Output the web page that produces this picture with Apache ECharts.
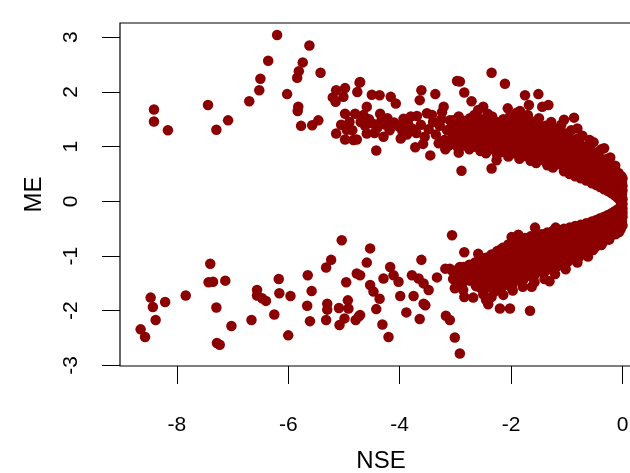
<!DOCTYPE html>
<html>
<head>
<meta charset="utf-8">
<script src="https://cdn.jsdelivr.net/npm/echarts@6/dist/echarts.min.js"></script>
<style>html,body{margin:0;padding:0;background:#fff}#c{width:630px;height:473px}</style>
</head>
<body>
<div id="c"></div>
<script>
// Tick labels
const xTicks = [-8, -6, -4, -2, 0];
const yTicks = [-3, -2, -1, 0, 1, 2, 3];

// Sparse upper points [NSE, ME]
const upperScatter = [
[-8.41,1.68],[-8.41,1.46],[-8.16,1.30],[-7.44,1.76],[-7.29,1.31],[-7.08,1.48],[-6.70,1.83],[-6.52,2.03],[-6.50,2.24],[-6.36,2.57],[-6.20,3.04],[-6.02,1.96],[-5.82,1.73],[-5.83,1.65],[-5.84,2.26],[-5.81,2.38],[-5.74,2.54],[-5.62,2.85],[-5.42,2.35],[-5.77,1.38],[-5.57,1.39],[-5.46,1.48],[-5.20,1.90],[-5.14,2.03],[-5.15,1.82],[-5.01,1.91],[-4.98,2.07],[-4.98,1.60],[-4.95,1.31],[-5.14,1.24],[-4.98,1.13],[-4.83,1.12],[-4.77,1.13],[-4.72,2.17],[-4.76,2.00],
[-2.35,2.35],[-2.11,2.15],[-2.97,2.20],[-2.92,2.19],[-2.84,1.99],[-2.71,1.83],[-3.36,1.96],[-3.61,2.03],[-3.64,1.85],[-3.69,1.56],[-3.51,1.61],[-3.21,1.73],[-3.24,1.63],[-2.50,1.73],[-2.59,1.67],[-1.75,1.94],[-1.51,1.96],[-1.68,1.76],[-1.33,1.76],[-1.44,1.73],[-2.06,1.70],[-1.84,1.65],[-1.05,1.49],[-0.87,1.53],[-0.81,1.33],[-0.59,1.12],[-0.33,0.97],[-0.13,0.65],[-2.89,0.56],[-2.35,0.60],[-2.26,0.75],[-4.42,0.93],[-4.59,1.24],[-4.71,2.18],[-4.50,1.95],[-4.36,1.94],[-4.16,1.91],[-4.07,1.79],[-4.59,1.73],[-4.35,1.60],[-3.93,1.51],[-3.87,1.22],[-4.29,1.18],[-3.72,0.99],[-3.45,0.84],[-3.30,1.06],[-3.18,0.95],[-2.94,0.89],
[-4.70,1.45],[-4.62,1.38],[-4.55,1.50],[-4.48,1.42],[-4.40,1.35],[-4.33,1.47],[-4.25,1.40],[-4.18,1.30],[-4.10,1.44],[-4.02,1.37],[-3.95,1.28],[-3.85,1.42],[-3.78,1.33],[-3.70,1.25],[-3.62,1.40],[-3.55,1.18],[-3.48,1.32],[-3.40,1.45],[-3.35,1.22],[-3.28,1.38],[-3.20,1.12],[-3.15,1.30],[-3.10,1.48],[-3.05,1.20],[-3.00,1.05],[-4.65,1.58],[-4.45,1.25],[-4.22,1.52],[-3.98,1.15],[-3.80,1.55],[-3.58,1.05],[-3.42,1.58],[-3.25,1.50],[-3.12,1.02],[-4.85,1.30],[-4.90,1.45],[-4.80,1.60],[-5.05,1.40],
[-1.28,1.45],[-1.10,1.40],[-0.92,1.30],[-0.72,1.20],[-0.52,1.08],[-0.38,0.95],[-0.22,0.80],[-1.50,1.52],[-1.70,1.58],[-1.90,1.62]
];

// Dense upper band [NSE, ME]
const upperBand = [
[-3.05,1.05],[-3.02,1.20],[-3.07,1.35],[-3.04,1.48],
[-2.95,0.98],[-2.97,1.12],[-2.93,1.28],[-2.96,1.42],[-2.94,1.55],
[-2.85,1.02],[-2.83,1.18],[-2.87,1.33],[-2.84,1.47],
[-2.75,0.95],[-2.77,1.10],[-2.73,1.25],[-2.76,1.40],[-2.74,1.52],
[-2.65,1.00],[-2.63,1.15],[-2.67,1.30],[-2.64,1.45],[-2.66,1.58],
[-2.55,0.92],[-2.57,1.07],[-2.53,1.22],[-2.56,1.37],[-2.54,1.50],
[-2.45,0.88],[-2.43,1.03],[-2.47,1.18],[-2.44,1.33],[-2.46,1.47],[-2.42,1.60],
[-2.35,0.95],[-2.37,1.10],[-2.33,1.25],[-2.36,1.40],[-2.34,1.55],
[-2.25,0.85],[-2.23,1.00],[-2.27,1.15],[-2.24,1.30],[-2.26,1.45],
[-2.15,0.90],[-2.17,1.05],[-2.13,1.20],[-2.16,1.35],[-2.14,1.50],
[-2.05,0.82],[-2.03,0.97],[-2.07,1.12],[-2.04,1.27],[-2.06,1.42],[-2.02,1.55],
[-1.95,0.88],[-1.97,1.03],[-1.93,1.18],[-1.96,1.33],[-1.94,1.47],
[-1.85,0.78],[-1.83,0.93],[-1.87,1.08],[-1.84,1.23],[-1.86,1.38],[-1.82,1.50],
[-1.75,0.83],[-1.77,0.98],[-1.73,1.13],[-1.76,1.28],[-1.74,1.42],
[-1.65,0.74],[-1.63,0.89],[-1.67,1.04],[-1.64,1.19],[-1.66,1.34],[-1.62,1.46],
[-1.55,0.70],[-1.57,0.85],[-1.53,1.00],[-1.56,1.15],[-1.54,1.30],[-1.58,1.40],
[-1.45,0.76],[-1.43,0.91],[-1.47,1.06],[-1.44,1.21],[-1.46,1.35],
[-1.35,0.66],[-1.37,0.81],[-1.33,0.96],[-1.36,1.11],[-1.34,1.26],[-1.38,1.38],
[-1.25,0.62],[-1.23,0.77],[-1.27,0.92],[-1.24,1.07],[-1.26,1.22],[-1.22,1.32],
[-1.15,0.68],[-1.17,0.83],[-1.13,0.98],[-1.16,1.13],[-1.14,1.27],
[-1.05,0.55],[-1.03,0.70],[-1.07,0.85],[-1.04,1.00],[-1.06,1.15],[-1.02,1.24],
[-0.95,0.50],[-0.97,0.65],[-0.93,0.80],[-0.96,0.95],[-0.94,1.10],[-0.98,1.18],
[-0.85,0.46],[-0.83,0.60],[-0.87,0.75],[-0.84,0.90],[-0.86,1.05],[-0.82,1.14],
[-0.75,0.42],[-0.77,0.56],[-0.73,0.70],[-0.76,0.85],[-0.74,0.98],[-0.78,1.08],
[-0.65,0.38],[-0.63,0.52],[-0.67,0.66],[-0.64,0.80],[-0.66,0.93],[-0.62,1.02],
[-0.55,0.33],[-0.57,0.47],[-0.53,0.61],[-0.56,0.75],[-0.54,0.88],[-0.58,0.96],
[-0.47,0.30],[-0.45,0.43],[-0.49,0.56],[-0.46,0.69],[-0.48,0.82],[-0.44,0.90],
[-0.40,0.26],[-0.42,0.38],[-0.38,0.51],[-0.41,0.64],[-0.39,0.76],[-0.43,0.84],
[-0.33,0.22],[-0.31,0.34],[-0.35,0.46],[-0.32,0.58],[-0.34,0.70],[-0.30,0.77],
[-0.26,0.19],[-0.28,0.30],[-0.24,0.41],[-0.27,0.52],[-0.25,0.63],[-0.29,0.70],
[-0.20,0.15],[-0.18,0.26],[-0.22,0.37],[-0.19,0.48],[-0.21,0.58],
[-0.14,0.11],[-0.16,0.21],[-0.12,0.31],[-0.15,0.42],[-0.13,0.52],
[-0.09,0.07],[-0.07,0.16],[-0.10,0.26],[-0.08,0.36],[-0.11,0.45],
[-0.05,0.03],[-0.04,0.12],[-0.06,0.21],[-0.03,0.30],[-0.05,0.38],
[-0.02,-0.02],[-0.01,0.07],[-0.03,0.15],[-0.02,0.24],[-0.01,0.32],
[0.00,-0.05],[0.00,0.04],[-0.01,0.12],[0.00,0.20]
];

// Dense lower band [NSE, ME]
const lowerBand = [
[0.00,-0.13],[0.00,-0.21],[-0.01,-0.30],
[-0.02,-0.08],[-0.01,-0.17],[-0.03,-0.26],[-0.02,-0.35],[-0.01,-0.42],
[-0.05,-0.12],[-0.04,-0.22],[-0.06,-0.31],[-0.05,-0.40],[-0.04,-0.48],
[-0.09,-0.15],[-0.08,-0.25],[-0.10,-0.35],[-0.09,-0.45],[-0.08,-0.54],
[-0.14,-0.18],[-0.13,-0.29],[-0.15,-0.40],[-0.14,-0.50],[-0.12,-0.60],
[-0.20,-0.22],[-0.19,-0.33],[-0.21,-0.44],[-0.18,-0.55],[-0.22,-0.65],
[-0.26,-0.25],[-0.27,-0.37],[-0.25,-0.49],[-0.28,-0.60],[-0.24,-0.70],
[-0.33,-0.28],[-0.32,-0.40],[-0.34,-0.52],[-0.31,-0.64],[-0.35,-0.75],
[-0.40,-0.31],[-0.41,-0.44],[-0.39,-0.56],[-0.42,-0.68],[-0.38,-0.80],
[-0.47,-0.34],[-0.46,-0.47],[-0.48,-0.60],[-0.45,-0.72],[-0.49,-0.84],
[-0.55,-0.37],[-0.56,-0.50],[-0.54,-0.63],[-0.57,-0.76],[-0.53,-0.89],
[-0.65,-0.40],[-0.64,-0.53],[-0.66,-0.66],[-0.63,-0.79],[-0.67,-0.92],
[-0.75,-0.43],[-0.76,-0.56],[-0.74,-0.69],[-0.77,-0.82],[-0.73,-0.95],[-0.78,-1.02],
[-0.85,-0.45],[-0.84,-0.58],[-0.86,-0.72],[-0.83,-0.85],[-0.87,-0.98],[-0.82,-1.06],
[-0.95,-0.48],[-0.96,-0.61],[-0.94,-0.75],[-0.97,-0.89],[-0.93,-1.02],[-0.98,-1.10],
[-1.05,-0.50],[-1.04,-0.64],[-1.06,-0.78],[-1.03,-0.92],[-1.07,-1.06],[-1.02,-1.15],
[-1.15,-0.52],[-1.16,-0.66],[-1.14,-0.81],[-1.17,-0.95],[-1.13,-1.09],[-1.18,-1.19],
[-1.25,-0.54],[-1.24,-0.69],[-1.26,-0.84],[-1.23,-0.99],[-1.27,-1.13],[-1.22,-1.23],
[-1.35,-0.57],[-1.36,-0.72],[-1.34,-0.87],[-1.37,-1.02],[-1.33,-1.17],[-1.38,-1.27],
[-1.45,-0.60],[-1.44,-0.75],[-1.46,-0.90],[-1.43,-1.05],[-1.47,-1.20],[-1.42,-1.31],
[-1.55,-0.62],[-1.56,-0.78],[-1.54,-0.94],[-1.57,-1.09],[-1.53,-1.24],[-1.58,-1.35],
[-1.65,-0.64],[-1.64,-0.80],[-1.66,-0.96],[-1.63,-1.12],[-1.67,-1.27],[-1.62,-1.39],
[-1.75,-0.67],[-1.76,-0.83],[-1.74,-0.99],[-1.77,-1.15],[-1.73,-1.31],[-1.78,-1.43],
[-1.85,-0.70],[-1.84,-0.86],[-1.86,-1.02],[-1.83,-1.18],[-1.87,-1.34],[-1.82,-1.47],
[-1.95,-0.74],[-1.96,-0.90],[-1.94,-1.06],[-1.97,-1.22],[-1.93,-1.38],[-1.98,-1.52],
[-2.05,-0.79],[-2.04,-0.95],[-2.06,-1.11],[-2.03,-1.27],[-2.07,-1.42],[-2.02,-1.55],
[-2.15,-0.85],[-2.16,-1.01],[-2.14,-1.17],[-2.17,-1.32],[-2.13,-1.47],[-2.18,-1.58],
[-2.25,-0.91],[-2.24,-1.07],[-2.26,-1.22],[-2.23,-1.37],[-2.27,-1.52],
[-2.35,-0.97],[-2.36,-1.12],[-2.34,-1.27],[-2.37,-1.42],[-2.33,-1.56],
[-2.45,-1.03],[-2.44,-1.18],[-2.46,-1.33],[-2.43,-1.47],[-2.47,-1.60],
[-2.55,-1.08],[-2.56,-1.23],[-2.54,-1.37],[-2.57,-1.50],
[-2.65,-1.12],[-2.64,-1.27],[-2.66,-1.41],[-2.63,-1.55],
[-2.75,-1.16],[-2.76,-1.31],[-2.74,-1.45],
[-2.85,-1.20],[-2.84,-1.35],[-2.86,-1.48],
[-2.95,-1.24],[-2.96,-1.38],[-2.94,-1.52],
[-3.05,-1.28],[-3.04,-1.42]
];

// Sparse lower points [NSE, ME]
const lowerScatter = [
[-5.04,-0.71],[-5.23,-1.07],[-5.32,-1.21],[-4.77,-1.32],[-4.96,-1.48],[-4.93,-1.81],[-4.92,-1.96],[-5.09,-1.95],[-5.30,-1.87],[-5.30,-1.98],[-4.99,-2.14],[-5.08,-2.26],[-4.79,-2.17],[-4.73,-2.10],[-5.32,-2.17],[-5.61,-2.19],[-5.66,-1.91],[-5.58,-1.64],[-5.65,-1.35],[-6.00,-2.45],[-5.96,-1.73],[-6.16,-1.68],[-6.17,-1.42],[-6.25,-2.07],[-6.56,-1.62],[-6.56,-1.72],[-6.47,-1.77],[-6.40,-1.82],[-6.66,-2.17],[-7.02,-2.28],[-7.28,-2.59],[-7.23,-2.62],[-7.29,-1.94],[-7.40,-1.14],[-7.43,-1.48],[-7.35,-1.47],[-7.13,-1.45],[-7.84,-1.72],[-8.21,-1.84],[-8.47,-1.76],[-8.43,-1.93],[-8.38,-2.17],[-8.65,-2.34],[-8.57,-2.48],
[-3.06,-0.62],[-4.53,-0.86],[-4.59,-1.12],[-3.61,-1.07],[-2.84,-0.93],[-2.59,-0.96],[-2.20,-0.89],[-2.26,-0.95],[-1.99,-0.65],[-1.87,-0.61],[-1.66,-0.71],[-1.57,-0.48],[-1.20,-0.48],[-1.63,-1.56],[-1.31,-1.46],[-1.66,-2.00],[-2.20,-1.96],[-2.02,-1.96],[-2.41,-1.88],[-2.14,-1.71],[-2.68,-1.76],[-2.84,-1.75],[-3.01,-1.59],[-3.17,-2.09],[-3.10,-2.17],[-3.01,-2.49],[-2.92,-2.78],[-3.64,-2.15],[-3.88,-2.03],[-3.54,-1.90],[-3.99,-1.73],[-4.20,-2.48],[-4.31,-2.25],[-4.42,-1.97],[-4.71,-2.08],[-4.36,-1.78],[-4.47,-1.65],[-4.53,-1.53],[-4.29,-1.41],[-4.17,-1.20],[-4.11,-1.35],[-4.02,-1.47],[-3.78,-1.35],[-3.66,-1.41],[-3.57,-1.50],[-3.48,-1.62],[-3.57,-1.87],[-3.75,-1.73],[-3.33,-1.39],[-3.18,-1.23],[-3.10,-1.23],[-2.92,-1.20],[-2.74,-1.17],[-2.65,-1.13],[-2.97,-1.50],[-2.86,-1.62],[-4.71,-1.35],
[-2.60,-1.45],[-2.50,-1.70],[-2.45,-1.80],[-2.35,-1.75],[-2.30,-1.65],[-2.55,-1.58],
[-1.02,-1.24],[-1.21,-1.33],[-1.40,-1.42],[-1.58,-1.48],[-1.79,-1.56],[-1.97,-1.63],[-0.81,-1.12],[-0.62,-1.01]
];

// Points around the tip near NSE = 0 [NSE, ME]
const tipPoints = [
[0.00,0.28],[-0.01,0.36],[0.00,0.42],[-0.02,0.46],[0.00,-0.28],[-0.01,-0.36],[0.00,-0.44],[-0.03,-0.50],[-0.05,0.46],[-0.07,0.52],[-0.06,-0.56]
];

const allPoints = upperScatter.concat(upperBand, lowerBand, lowerScatter, tipPoints);
const FONT = 'Liberation Sans';

const chart = echarts.init(document.getElementById('c'), null, {renderer: 'canvas'});
chart.setOption({
  animation: false,
  backgroundColor: '#ffffff',
  grid: {left: 120, top: 23, width: 522, height: 343, outerBoundsMode: 'none', containLabel: false, show: true, borderColor: '#000', borderWidth: 1.2, backgroundColor: 'transparent'},
  xAxis: {
    type: 'value', min: -9.02, max: 0.35,
    name: 'NSE', nameLocation: 'middle', nameGap: 83,
    nameTextStyle: {fontFamily: FONT, fontSize: 24, color: '#000'},
    axisLine: {show: false, onZero: false},
    splitLine: {show: false},
    axisTick: {show: true, inside: false, length: 18, customValues: xTicks, lineStyle: {color: '#000', width: 1}},
    axisLabel: {show: true, customValues: xTicks, margin: 49, fontFamily: FONT, fontSize: 21, color: '#000'}
  },
  yAxis: {
    type: 'value', min: -3.01, max: 3.26,
    name: 'ME', nameLocation: 'middle', nameGap: 74, nameRotate: 90,
    nameTextStyle: {fontFamily: FONT, fontSize: 24, color: '#000'},
    axisLine: {show: false, onZero: false},
    splitLine: {show: false},
    axisTick: {show: true, inside: false, length: 18, customValues: yTicks, lineStyle: {color: '#000', width: 1}},
    axisLabel: {show: true, customValues: yTicks, rotate: 90, margin: 38, fontFamily: FONT, fontSize: 21, color: '#000'}
  },
  series: [{
    type: 'scatter',
    data: allPoints,
    symbol: 'circle',
    symbolSize: 10.5,
    itemStyle: {color: '#8B0000', opacity: 1},
    silent: true
  }]
});
</script>
</body>
</html>
